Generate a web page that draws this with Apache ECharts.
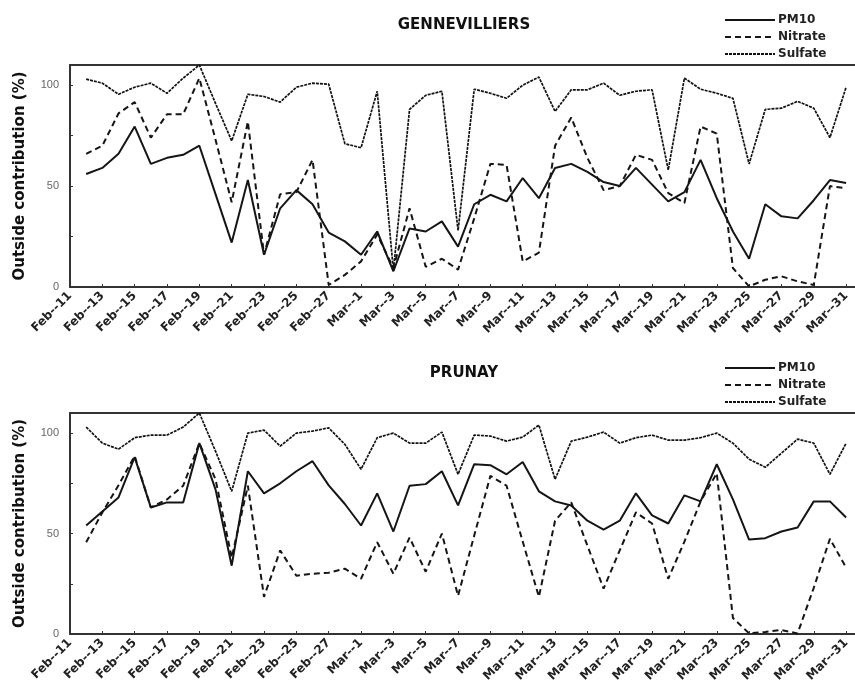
<!DOCTYPE html>
<html>
<head>
<meta charset="utf-8">
<script src="https://cdn.jsdelivr.net/npm/echarts@6/dist/echarts.min.js"></script>
<style>
html, body { margin: 0; padding: 0; background: #fff; }
#chart { width: 855px; height: 697px; }
</style>
</head>
<body>
<div id="chart"></div>
<script>
// Daily axis, Feb 11 to Mar 31 (index 0 = Feb 11, no sample that day)
const days = [
  'Feb--11','Feb--12','Feb--13','Feb--14','Feb--15','Feb--16','Feb--17','Feb--18','Feb--19','Feb--20',
  'Feb--21','Feb--22','Feb--23','Feb--24','Feb--25','Feb--26','Feb--27','Feb--28',
  'Mar--1','Mar--2','Mar--3','Mar--4','Mar--5','Mar--6','Mar--7','Mar--8','Mar--9','Mar--10',
  'Mar--11','Mar--12','Mar--13','Mar--14','Mar--15','Mar--16','Mar--17','Mar--18','Mar--19','Mar--20',
  'Mar--21','Mar--22','Mar--23','Mar--24','Mar--25','Mar--26','Mar--27','Mar--28','Mar--29','Mar--30','Mar--31'
];

const seriesNames = ['PM10', 'Nitrate', 'Sulfate'];
const panelTitles = ['GENNEVILLIERS', 'PRUNAY'];
const yTickLabels = [0, 50, 100];

// Gennevilliers, outside contribution (%)
const gennPM10 = [null, 56, 59, 66, 79.5, 61, 64, 65.5, 70, 46, 22, 53, 16, 39, 48, 41, 27, 22.6,
  16, 27.5, 7.8, 29, 27.5, 32.5, 20, 41, 45.7, 42.4, 54, 44, 59, 61, 57, 52, 50, 59, 50.7, 42.4,
  47, 63, 44, 27.5, 14, 41, 35, 34, 43, 53, 51.5];
const gennNitrate = [null, 66, 70, 86, 91.6, 74, 85.6, 85.6, 103.5, 73, 42, 82, 16, 46, 47, 63, 1, 6,
  12.7, 26, 9.4, 39, 10, 14, 8.6, 34, 61, 60.5, 12.7, 17, 70, 84, 64, 48, 50, 65.5, 63, 46.5,
  41.6, 79.5, 76, 9.4, 0.3, 3.6, 5.3, 2.8, 1, 50, 49];
const gennSulfate = [null, 103, 101, 95.5, 99, 101, 96, 103.5, 110, 91, 72.4, 95.5, 94.4, 91.6, 99, 101, 100.5, 71,
  69, 97, 8, 88, 95, 97, 28, 98, 96, 93.5, 100, 104, 87, 97.7, 97.7, 101, 95, 97, 97.7, 58,
  103.5, 98, 96, 93.5, 61, 88, 88.6, 92, 88.6, 74, 99];

// Prunay, outside contribution (%)
const prunPM10 = [null, 54, 61, 68, 88, 63, 65.5, 65.5, 95, 72, 34, 81, 70, 75, 81, 86, 74, 64.7,
  54, 70, 51, 73.8, 74.6, 81, 64, 84.5, 84, 79.5, 85.6, 71, 66, 64, 56.4, 52, 56.4, 70, 59, 55,
  69, 66, 84.5, 67, 47, 47.7, 51, 53, 66, 66, 58];
const prunNitrate = [null, 45.7, 60.5, 74, 88.6, 63, 67, 73.8, 95, 77, 38, 73.8, 18.5, 41.6, 29, 30, 30.5, 32.5,
  27.5, 45.7, 30, 48, 31, 50, 19, 49, 78.7, 73.8, 46, 18.5, 56.4, 65.5, 44, 22.6, 41.6, 60.5, 55, 27.5,
  46, 66, 80, 8, 0.3, 1, 2, 0.3, 23, 47.4, 33];
const prunSulfate = [null, 103, 95, 92, 97.7, 99, 99, 103, 110, 91, 71, 100, 101.5, 93.5, 100, 101, 102.6, 94.4,
  82, 97.7, 100, 95, 95, 100.5, 79.5, 99, 98.5, 96, 98, 104, 77, 96, 98, 100.5, 95, 97.7, 99, 96.5,
  96.5, 97.7, 100, 95, 87, 83, 90, 97, 95, 79.5, 95];

const panels = [
  { title: panelTitles[0], top: 65, height: 222, values: [gennPM10, gennNitrate, gennSulfate] },
  { title: panelTitles[1], top: 413, height: 221, values: [prunPM10, prunNitrate, prunSulfate] }
];

const ink = '#151515';
const textFont = 'DejaVu Sans';
const lineStyles = [
  { width: 2, type: 'solid', color: ink },
  { width: 2, type: [6, 4], color: ink },
  { width: 1.7, type: [3, 1], color: '#111' }
];

const grids = [], xAxes = [], yAxes = [], series = [], legends = [], graphics = [];

panels.forEach((p, k) => {
  grids.push({ left: 70, right: 0, top: p.top, height: p.height });

  // bottom date axis
  xAxes.push({
    type: 'value', gridIndex: k, min: 0, max: 48.55, interval: 2,
    axisLine: { show: true, onZero: false, lineStyle: { color: '#333', width: 2 } },
    axisTick: { show: true, inside: true, length: 3, lineStyle: { color: '#333', width: 1 } },
    splitLine: { show: false },
    axisLabel: {
      rotate: 45, margin: 7, color: '#222',
      fontFamily: textFont, fontWeight: 'bold', fontSize: 12,
      showMaxLabel: false,
      formatter: v => (Number.isInteger(v) && v % 2 === 0 && days[v]) ? days[v] : ''
    }
  });
  // top frame line
  xAxes.push({
    type: 'value', gridIndex: k, position: 'top', min: 0, max: 48.55,
    axisLine: { show: true, onZero: false, lineStyle: { color: '#333', width: 2 } },
    axisTick: { show: false }, axisLabel: { show: false }, splitLine: { show: false }
  });

  yAxes.push({
    type: 'value', gridIndex: k, min: 0, max: 110, interval: 25,
    name: 'Outside contribution (%)', nameLocation: 'middle', nameGap: 42, nameRotate: 90,
    nameTextStyle: { fontFamily: textFont, fontWeight: 'bold', fontSize: 15, color: '#111' },
    axisLine: { show: true, onZero: false, lineStyle: { color: '#333', width: 2 } },
    axisTick: { show: true, inside: true, length: 3, lineStyle: { color: '#333', width: 1 } },
    splitLine: { show: false },
    axisLabel: {
      margin: 11, color: '#666', fontFamily: 'Liberation Sans', fontSize: 11,
      formatter: v => yTickLabels.includes(v) ? String(v) : ''
    }
  });

  seriesNames.forEach((name, s) => {
    series.push({
      name, type: 'line', xAxisIndex: k * 2, yAxisIndex: k,
      symbol: 'none', showSymbol: false, animation: false, connectNulls: false,
      color: ink,
      itemStyle: { color: ink, opacity: 0 },
      lineStyle: lineStyles[s],
      data: p.values[s].map((v, i) => [i, v]).filter(d => d[1] !== null)
    });
  });

  legends.push({
    data: seriesNames, orient: 'vertical', left: 719, top: p.top - 56,
    itemWidth: 50, itemHeight: 14, itemGap: 5, selectedMode: false,
    itemStyle: { opacity: 0 },
    textStyle: { fontFamily: textFont, fontWeight: 'bold', fontSize: 12, color: '#222', padding: [0, 0, 0, -2] }
  });

  graphics.push({
    type: 'text', x: 464, y: p.top - 40,
    style: { text: p.title, fill: '#111', font: 'bold 15px "DejaVu Sans"', align: 'center', verticalAlign: 'middle' }
  });
});

const chart = echarts.init(document.getElementById('chart'), null, { renderer: 'canvas' });
chart.setOption({
  animation: false,
  backgroundColor: '#fff',
  grid: grids,
  xAxis: xAxes,
  yAxis: yAxes,
  legend: legends,
  graphic: graphics,
  series: series
});
</script>
</body>
</html>
